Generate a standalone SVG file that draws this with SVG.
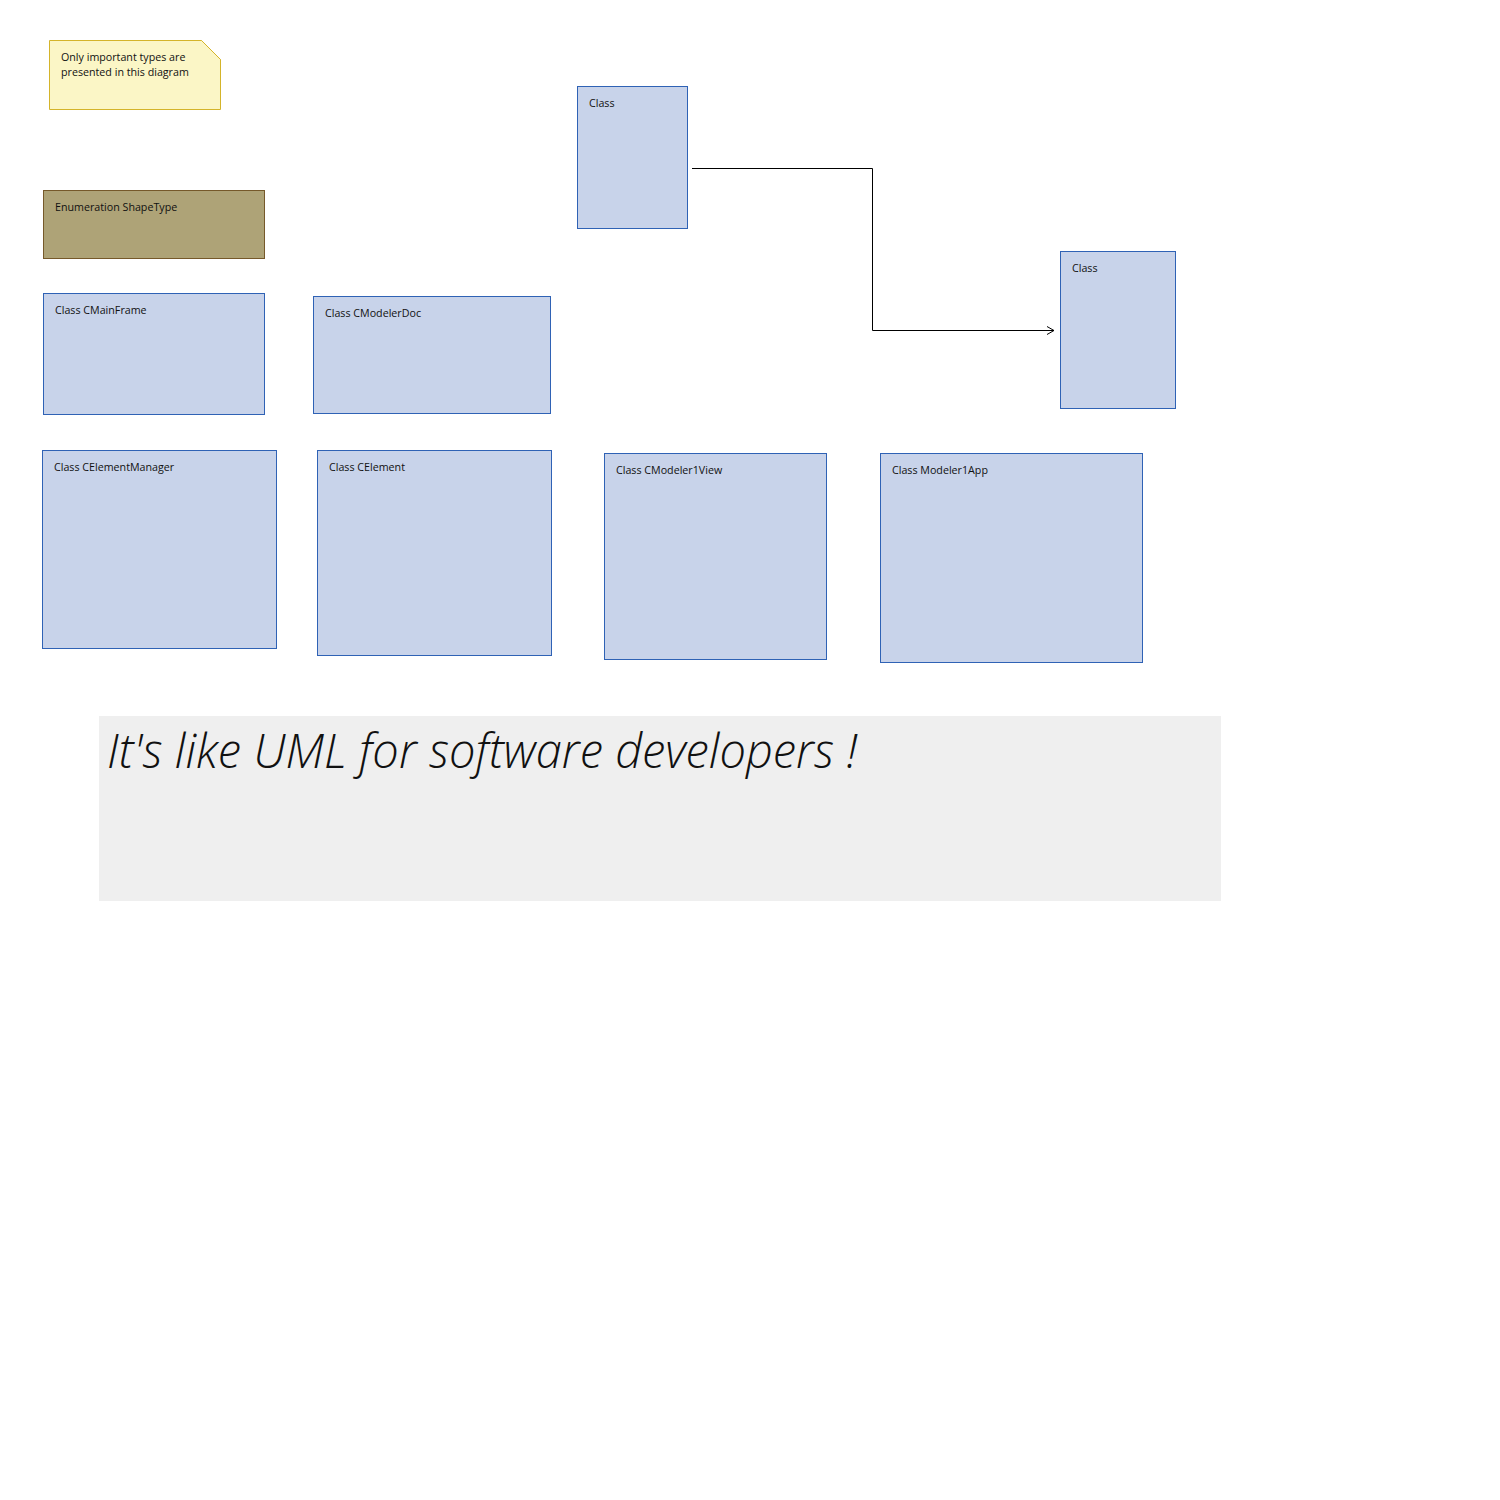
<svg xmlns="http://www.w3.org/2000/svg" width="1500" height="1500" viewBox="0 0 1500 1500">
<style>
.cls{fill:#C8D3EA;stroke:#2F62B5;stroke-width:1}
.lbl{font-family:"Open Sans","Noto Sans","Liberation Sans",sans-serif;font-size:10.7px;fill:#111}
.conn{fill:none;stroke:#000;stroke-width:1}
</style>
<defs>
<marker id="arr" markerWidth="10" markerHeight="10" refX="8" refY="5" orient="auto" markerUnits="userSpaceOnUse">
<path d="M1,1 L8,5 L1,9" fill="none" stroke="#000" stroke-width="1"/>
</marker>
</defs>
<rect width="1500" height="1500" fill="#fff"/>
<g id="note">
<path d="M49.5,40.5 H201.5 L220.5,59.5 V109.5 H49.5 Z" fill="#FBF6C6" stroke="#D4B42A"/>
<path d="M201.5,40.5 L220.5,59.5" stroke="#D4B42A" fill="none"/>
<text class="lbl" x="61" y="61">Only important types are</text>
<text class="lbl" x="61" y="76">presented in this diagram</text>
</g>
<g id="enum-shapetype">
<rect x="43.5" y="190.5" width="221" height="68" fill="#AEA377" stroke="#76592A"/>
<text class="lbl" x="55" y="211">Enumeration ShapeType</text>
</g>
<g id="class-cmainframe">
<rect class="cls" x="43.5" y="293.5" width="221" height="121"/>
<text class="lbl" x="55" y="314">Class CMainFrame</text>
</g>
<g id="class-cmodelerdoc">
<rect class="cls" x="313.5" y="296.5" width="237" height="117"/>
<text class="lbl" x="325" y="317">Class CModelerDoc</text>
</g>
<g id="class-top">
<rect class="cls" x="577.5" y="86.5" width="110" height="142"/>
<text class="lbl" x="589" y="107">Class</text>
</g>
<g id="class-right">
<rect class="cls" x="1060.5" y="251.5" width="115" height="157"/>
<text class="lbl" x="1072" y="272">Class</text>
</g>
<g id="class-celementmanager">
<rect class="cls" x="42.5" y="450.5" width="234" height="198"/>
<text class="lbl" x="54" y="471">Class CElementManager</text>
</g>
<g id="class-celement">
<rect class="cls" x="317.5" y="450.5" width="234" height="205"/>
<text class="lbl" x="329" y="471">Class CElement</text>
</g>
<g id="class-cmodeler1view">
<rect class="cls" x="604.5" y="453.5" width="222" height="206"/>
<text class="lbl" x="616" y="474">Class CModeler1View</text>
</g>
<g id="class-modeler1app">
<rect class="cls" x="880.5" y="453.5" width="262" height="209"/>
<text class="lbl" x="892" y="474">Class Modeler1App</text>
</g>
<g id="banner">
<rect x="99" y="716" width="1122" height="185" fill="#EFEFEF"/>
<text x="107" y="768" font-family="'Open Sans','Noto Sans',sans-serif" font-weight="300" font-style="italic" font-size="48" fill="#111" textLength="750" lengthAdjust="spacingAndGlyphs">It's like UML for software developers !</text>
</g>
<g id="connectors">
<path class="conn" d="M692,168.5 H872.5 V330.5 H1054" marker-end="url(#arr)"/>
</g>
</svg>
